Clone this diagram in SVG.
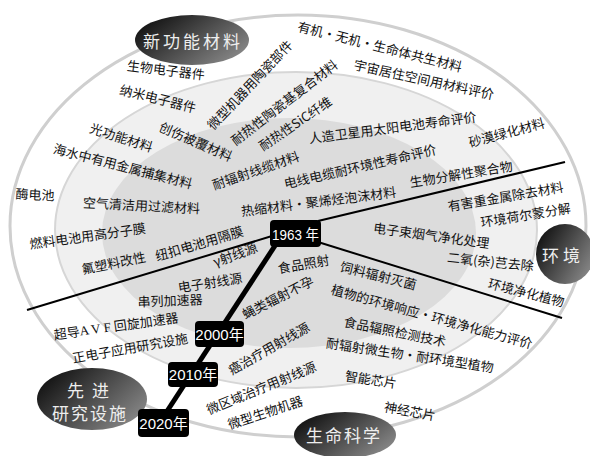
<svg xmlns="http://www.w3.org/2000/svg" width="590" height="456" viewBox="0 0 590 456">
<style>
.l{font-family:"Noto Sans CJK SC","Noto Sans CJK JP",sans-serif;font-size:13px;fill:#111;text-anchor:middle;dominant-baseline:central}
.c{font-family:"Noto Sans CJK SC","Noto Sans CJK JP",sans-serif;font-size:17px;fill:#eeeeee;text-anchor:middle;dominant-baseline:central}
.y{font-family:"Liberation Sans","Noto Sans CJK SC",sans-serif;font-size:15px;fill:#fff;text-anchor:middle;dominant-baseline:central}
.box{fill:#000}
.thin{stroke:#000;stroke-width:2;fill:none}
.thick{stroke:#000;stroke-width:5;fill:none}
</style>
<defs>
<linearGradient id="g" x1="0" y1="0.2" x2="1" y2="0.8">
<stop offset="0" stop-color="#0e0e0e"/>
<stop offset="1" stop-color="#8c8c8c"/>
</linearGradient>
</defs>
<rect width="590" height="456" fill="#fff"/>
<g id="rings">
<ellipse cx="298" cy="226" rx="288" ry="211" fill="#fff" stroke="#cfcfcf" stroke-width="3"/>
<ellipse cx="296" cy="230" rx="241" ry="158" fill="#f0f0f0" stroke="#d6d6d6" stroke-width="2"/>
<ellipse cx="289" cy="233" rx="187" ry="115" fill="#dcdcdc"/>
</g>
<g id="connectors">
<line class="thin" x1="27" y1="310" x2="272" y2="236"/>
<line class="thin" x1="318" y1="221" x2="565" y2="162"/>
<line class="thin" x1="318" y1="242" x2="562" y2="318"/>
<line class="thick" x1="280" y1="238" x2="160" y2="422"/>
</g>
<g id="cat-materials">
<ellipse cx="192" cy="40" rx="57" ry="25" fill="url(#g)"/>
<text class="c" x="193" y="40" letter-spacing="3">新功能材料</text>
</g>
<g id="cat-env">
<ellipse cx="565" cy="254" rx="29" ry="30" fill="url(#g)"/>
<text class="c" x="563" y="254" letter-spacing="4">环境</text>
</g>
<g id="cat-facility">
<ellipse cx="92" cy="399" rx="55" ry="31" fill="url(#g)"/>
<text class="c" x="92" y="389" letter-spacing="8">先进</text>
<text class="c" x="90" y="412" letter-spacing="2">研究设施</text>
</g>
<g id="cat-life">
<ellipse cx="345" cy="435" rx="51" ry="23" fill="url(#g)"/>
<text class="c" x="344" y="434" letter-spacing="2">生命科学</text>
</g>
<g id="year-1963">
<rect class="box" x="270" y="220" width="51" height="27" rx="4"/>
<text class="y" x="295.5" y="234" font-size="16" textLength="47" lengthAdjust="spacingAndGlyphs">1963 年</text>
</g>
<g id="year-2000">
<rect class="box" x="195" y="321" width="49" height="26" rx="4"/>
<text class="y" x="219.5" y="334">2000年</text>
</g>
<g id="year-2010">
<rect class="box" x="168" y="362" width="50" height="25" rx="4"/>
<text class="y" x="193" y="374.5">2010年</text>
</g>
<g id="year-2020">
<rect class="box" x="138" y="409" width="51" height="28" rx="4"/>
<text class="y" x="163.5" y="423">2020年</text>
</g>
<g id="labels">
<text class="l" transform="translate(380,46) rotate(14)">有机・无机・生命体共生材料</text>
<text class="l" transform="translate(424,79) rotate(12.3)">宇宙居住空间用材料评价</text>
<text class="l" transform="translate(166,69.5) rotate(7)">生物电子器件</text>
<text class="l" transform="translate(158,98) rotate(14)">纳米电子器件</text>
<text class="l" transform="translate(121.5,137) rotate(17.7)">光功能材料</text>
<text class="l" transform="translate(196,141) rotate(23.5)">创伤被覆材料</text>
<text class="l" transform="translate(123,165.5) rotate(14.5)">海水中有用金属捕集材料</text>
<text class="l" transform="translate(141.5,205) rotate(3)">空气清洁用过滤材料</text>
<text class="l" transform="translate(35,194) rotate(3)">酶电池</text>
<text class="l" transform="translate(87.5,235.5) rotate(-8)">燃料电池用高分子膜</text>
<text class="l" transform="translate(113.5,262.5) rotate(-11.3)">氟塑料改性</text>
<text class="l" transform="translate(199,243) rotate(-16.7)">纽扣电池用隔膜</text>
<text class="l" transform="translate(235,254) rotate(-20)">γ射线源</text>
<text class="l" transform="translate(210,282) rotate(-9)">电子射线源</text>
<text class="l" transform="translate(170,300) rotate(-2)">串列加速器</text>
<text class="l" transform="translate(116,325.5) rotate(-8)">超导<tspan font-family="Liberation Serif,serif">A V F </tspan>回旋加速器</text>
<text class="l" transform="translate(130,347.5) rotate(-10)">正电子应用研究设施</text>
<text class="l" transform="translate(303.5,263.5) rotate(-10)">食品照射</text>
<text class="l" transform="translate(378.5,275) rotate(14)">饲料辐射灭菌</text>
<text class="l" transform="translate(277.5,297) rotate(-27)">蝇类辐射不孕</text>
<text class="l" transform="translate(432,316) rotate(15.3)">植物的环境响应・环境净化能力评价</text>
<text class="l" transform="translate(395,331) rotate(11.3)">食品辐照检测技术</text>
<text class="l" transform="translate(410,354.5) rotate(8.4)">耐辐射微生物・耐环境型植物</text>
<text class="l" transform="translate(371,379) rotate(8.5)">智能芯片</text>
<text class="l" transform="translate(410,410.5) rotate(10)">神经芯片</text>
<text class="l" transform="translate(268.5,348) rotate(-29.7)">癌治疗用射线源</text>
<text class="l" transform="translate(261,387.5) rotate(-22.3)">微区域治疗用射线源</text>
<text class="l" transform="translate(265,412) rotate(-18.4)">微型生物机器</text>
<text class="l" transform="translate(249.5,84.5) rotate(-46.6)">微型机器用陶瓷部件</text>
<text class="l" transform="translate(284,102) rotate(-37.5)">耐热性陶瓷基复合材料</text>
<text class="l" transform="translate(295,123) rotate(-34)">耐热性SiC纤维</text>
<text class="l" transform="translate(255.5,170) rotate(-19)">耐辐射线缆材料</text>
<text class="l" transform="translate(392.5,127) rotate(-7.4)">人造卫星用太阳电池寿命评价</text>
<text class="l" transform="translate(360,166) rotate(-12.9)">电线电缆耐环境性寿命评价</text>
<text class="l" transform="translate(318.5,201) rotate(-7.2)">热缩材料・聚烯烃泡沫材料</text>
<text class="l" transform="translate(461,173.5) rotate(-9.3)">生物分解性聚合物</text>
<text class="l" transform="translate(506.5,132) rotate(-15)">砂漠绿化材料</text>
<text class="l" transform="translate(505.5,196) rotate(-9.7)">有害重金属除去材料</text>
<text class="l" transform="translate(525.5,214.5) rotate(-9.3)">环境荷尔蒙分解</text>
<text class="l" transform="translate(431.5,235) rotate(7.7)">电子束烟气净化处理</text>
<text class="l" transform="translate(490.5,261) rotate(5.8)">二氧(杂)芑去除</text>
<text class="l" transform="translate(526.5,292) rotate(14.2)">环境净化植物</text>
</g>
</svg>
